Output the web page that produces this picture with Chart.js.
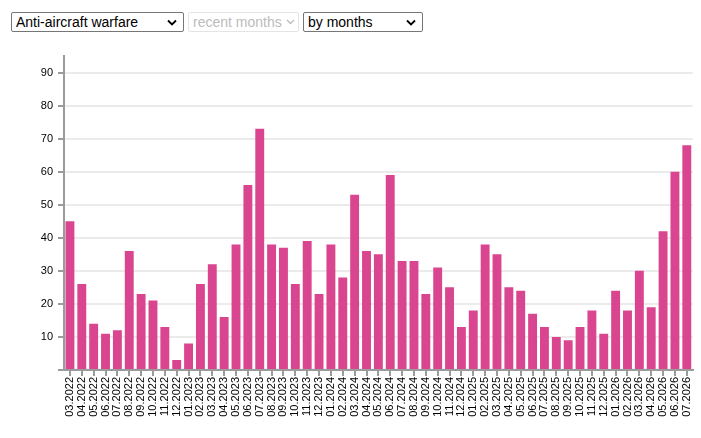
<!DOCTYPE html>
<html>
<head>
<meta charset="utf-8">
<script src="https://cdn.jsdelivr.net/npm/chart.js@4/dist/chart.umd.min.js"></script>
<style>
  html, body { margin: 0; padding: 0; background: #fff; }
  .controls { position: absolute; top: 12px; left: 11px; white-space: nowrap; font-size: 0; }
  .controls select {
    -webkit-appearance: none; appearance: none;
    font: 14px "Liberation Sans", Arial, sans-serif;
    height: 20px; padding: 0 16px 0 4px; margin: 0 4px 0 0;
    box-sizing: border-box; vertical-align: top;
    border: 1px solid #767676; border-radius: 2px; color: #000;
    background: #fff url("data:image/svg+xml,%3Csvg xmlns='http://www.w3.org/2000/svg' width='10' height='7'%3E%3Cpath d='M1 1.5l4 4 4-4' fill='none' stroke='%23000' stroke-width='1.8'/%3E%3C/svg%3E") no-repeat right 6px center;
  }
  .controls select:disabled {
    color: #a0a0a0; border-color: #dadada; padding-right: 12px;
    background: #fff url("data:image/svg+xml,%3Csvg xmlns='http://www.w3.org/2000/svg' width='9' height='6'%3E%3Cpath d='M1 1l3.5 3.5 3.5-3.5' fill='none' stroke='%23a0a0a0' stroke-width='1.3'/%3E%3C/svg%3E") no-repeat right 3px center;
  }
  #wrap { position: absolute; top: 40px; left: 0; width: 701px; height: 398px; }
</style>
</head>
<body>
<div class="controls">
  <select style="width:173px"><option>Anti-aircraft warfare</option></select><select style="width:111px" disabled><option>recent months</option></select><select style="width:120px"><option>by months</option></select>
</div>
<div id="wrap"><canvas id="chart"></canvas></div>
<script>
// months on the x axis
var months = [
  "03.2022","04.2022","05.2022","06.2022","07.2022","08.2022","09.2022","10.2022","11.2022","12.2022",
  "01.2023","02.2023","03.2023","04.2023","05.2023","06.2023","07.2023","08.2023","09.2023","10.2023","11.2023","12.2023",
  "01.2024","02.2024","03.2024","04.2024","05.2024","06.2024","07.2024","08.2024","09.2024","10.2024","11.2024","12.2024",
  "01.2025","02.2025","03.2025","04.2025","05.2025","06.2025","07.2025","08.2025","09.2025","10.2025","11.2025","12.2025",
  "01.2026","02.2026","03.2026","04.2026","05.2026","06.2026","07.2026"
];

// counts per month
var counts = [
  45, 26, 14, 11, 12, 36, 23, 21, 13, 3,
  8, 26, 32, 16, 38, 56, 73, 38, 37, 26, 39, 23,
  38, 28, 53, 36, 35, 59, 33, 33, 23, 31, 25, 13,
  18, 38, 35, 25, 24, 17, 13, 10, 9, 13, 18, 11,
  24, 18, 30, 19, 42, 60, 68
];

var yMax = 95;
var yStep = 10;

var axisGray = '#9b9b9b';
var font = { family: '"Liberation Sans", Arial, sans-serif', size: 11 };

new Chart(document.getElementById("chart"), {
  type: 'bar',
  data: {
    labels: months,
    datasets: [
      {
        label: "Anti-aircraft warfare",
        backgroundColor: "#d9458f",
        data: counts,
        barPercentage: 0.75,
        categoryPercentage: 1
      }
    ]
  },
  options: {
    responsive: true,
    maintainAspectRatio: false,
    animation: false,
    layout: { padding: { top: 16, right: 0, bottom: 0, left: 0 } },
    plugins: {
      legend: { display: false },
      tooltip: { enabled: false }
    },
    scales: {
      x: {
        afterFit: function (scale) { scale.height = 68; },
        grid: {
          drawOnChartArea: false,
          offset: false,
          tickColor: axisGray,
          tickLength: 6,
          lineWidth: 2
        },
        border: { color: axisGray, width: 2 },
        ticks: {
          autoSkip: false,
          minRotation: 90,
          maxRotation: 90,
          padding: 1,
          color: '#000',
          font: font
        }
      },
      y: {
        min: 0,
        max: yMax,
        afterFit: function (scale) { scale.width = 64; },
        grid: {
          color: '#ebebeb',
          lineWidth: 2,
          tickColor: axisGray,
          tickLength: 6
        },
        border: { color: axisGray, width: 2 },
        ticks: {
          stepSize: yStep,
          includeBounds: false,
          padding: 5,
          color: '#000',
          font: font,
          callback: function (v) { return v === 0 ? '' : v; }
        }
      }
    }
  }
});
</script>
</body>
</html>
